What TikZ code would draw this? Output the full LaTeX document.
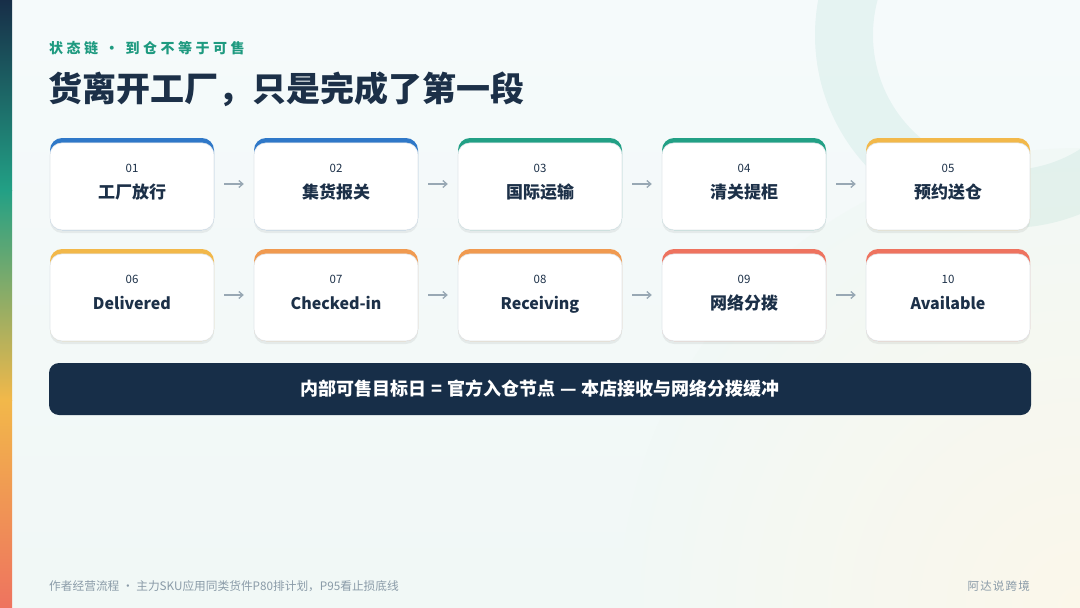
\documentclass[tikz,border=0pt]{standalone}
\usepackage{fontspec}
\setmainfont{Noto Sans CJK SC}
\usepackage{tikz}
\usetikzlibrary{arrows.meta, positioning, shadows}
\definecolor{adanavy}{HTML}{172E48}
\definecolor{adaink}{HTML}{1C3048}
\definecolor{adateal}{HTML}{1E9A80}
\definecolor{adablue}{HTML}{2F78C8}
\definecolor{adagreen}{HTML}{22A085}
\definecolor{adayellow}{HTML}{F2B84A}
\definecolor{adaorange}{HTML}{F09A50}
\definecolor{adacoral}{HTML}{EE735F}
\definecolor{adagray}{HTML}{8A9BA8}
\definecolor{adaarrow}{HTML}{98A8B4}
\definecolor{adaedge}{HTML}{E1E7EB}
\definecolor{adabgtop}{HTML}{F5FAFB}
\definecolor{adabgbot}{HTML}{F1F8F6}
\definecolor{adacream}{HTML}{FBF7EA}

\begin{document}
\begin{tikzpicture}[
        x=1pt, y=-1pt,
        every node/.style={align=center, inner sep=0pt},
        card/.style={rectangle, rounded corners=12pt, fill=#1,
                     minimum width=164pt, minimum height=92pt,
                     drop shadow={shadow xshift=0pt, shadow yshift=-3pt,
                                  opacity=0.06, fill=black}},
        body/.style={rectangle, rounded corners=12pt, fill=white,
                     draw=adaedge, line width=0.6pt,
                     minimum width=164pt, minimum height=87pt, anchor=south},
        num/.style={font=\fontsize{11.5}{13}\selectfont, text=adaink},
        lbl/.style={font=\fontsize{17}{20}\selectfont\bfseries, text=adaink,
                    text height=15pt, text depth=2pt},
        elbl/.style={font=\fontsize{16}{20}\selectfont\bfseries, text=adaink,
                     text height=15pt, text depth=2pt},
        flow/.style={-{Straight Barb[length=4pt, width=7pt]}, draw=adaarrow,
                     line width=1.3pt, shorten >=10pt, shorten <=10pt},
        banner/.style={rectangle, rounded corners=10pt, fill=adanavy,
                       minimum width=982pt, minimum height=52pt, text=white,
                       font=\fontsize{18}{20}\selectfont\bfseries}
    ]
        \useasboundingbox (0,0) rectangle (1080,608);

        % background and side strip
        \shade[top color=adabgtop, bottom color=adabgbot] (0,0) rectangle (1080,608);
        \begin{scope}
            \clip (0,0) rectangle (1080,608);
            \shade[inner color=adacream, outer color=adabgbot] (1080,608) circle (460pt);
        \end{scope}
        \fill[adateal, fill opacity=0.07, even odd rule]
            (1008,35) circle (193pt) (1008,35) circle (135pt);
        \shade[top color=adanavy, bottom color=adagreen] (0,0) rectangle (12,190);
        \shade[top color=adagreen, bottom color=adayellow] (0,190) rectangle (12,400);
        \shade[top color=adayellow, bottom color=adacoral] (0,400) rectangle (12,608);

        % heading
        \node[anchor=west, text=adateal,
              font=\fontsize{14}{16}\selectfont\bfseries\addfontfeature{LetterSpace=25}]
            (kicker) at (49,48) {状态链 · 到仓不等于可售};
        \node[anchor=west, text=adaink, font=\fontsize{34}{40}\selectfont\bfseries]
            (title) at (48,89) {货离开工厂，只是完成了第一段};

        % row 1
        \node[card=adablue] (c1) at (132,184) {};
        \node[body] (b1) at (c1.south) {};
        \node[num] (n1) at ([yshift=16pt]c1.center) {01};
        \node[lbl] (t1) at ([yshift=-8pt]c1.center) {工厂放行};

        \node[card=adablue] (c2) at (336,184) {};
        \node[body] (b2) at (c2.south) {};
        \node[num] (n2) at ([yshift=16pt]c2.center) {02};
        \node[lbl] (t2) at ([yshift=-8pt]c2.center) {集货报关};

        \node[card=adagreen] (c3) at (540,184) {};
        \node[body] (b3) at (c3.south) {};
        \node[num] (n3) at ([yshift=16pt]c3.center) {03};
        \node[lbl] (t3) at ([yshift=-8pt]c3.center) {国际运输};

        \node[card=adagreen] (c4) at (744,184) {};
        \node[body] (b4) at (c4.south) {};
        \node[num] (n4) at ([yshift=16pt]c4.center) {04};
        \node[lbl] (t4) at ([yshift=-8pt]c4.center) {清关提柜};

        \node[card=adayellow] (c5) at (948,184) {};
        \node[body] (b5) at (c5.south) {};
        \node[num] (n5) at ([yshift=16pt]c5.center) {05};
        \node[lbl] (t5) at ([yshift=-8pt]c5.center) {预约送仓};

        % row 2
        \node[card=adayellow] (c6) at (132,295) {};
        \node[body] (b6) at (c6.south) {};
        \node[num] (n6) at ([yshift=16pt]c6.center) {06};
        \node[elbl] (t6) at ([yshift=-8pt]c6.center) {Delivered};

        \node[card=adaorange] (c7) at (336,295) {};
        \node[body] (b7) at (c7.south) {};
        \node[num] (n7) at ([yshift=16pt]c7.center) {07};
        \node[elbl] (t7) at ([yshift=-8pt]c7.center) {Checked-in};

        \node[card=adaorange] (c8) at (540,295) {};
        \node[body] (b8) at (c8.south) {};
        \node[num] (n8) at ([yshift=16pt]c8.center) {08};
        \node[elbl] (t8) at ([yshift=-8pt]c8.center) {Receiving};

        \node[card=adacoral] (c9) at (744,295) {};
        \node[body] (b9) at (c9.south) {};
        \node[num] (n9) at ([yshift=16pt]c9.center) {09};
        \node[lbl] (t9) at ([yshift=-8pt]c9.center) {网络分拨};

        \node[card=adacoral] (c10) at (948,295) {};
        \node[body] (b10) at (c10.south) {};
        \node[num] (n10) at ([yshift=16pt]c10.center) {10};
        \node[elbl] (t10) at ([yshift=-8pt]c10.center) {Available};

        % arrows
        \draw[flow] (c1) -- (c2);
        \draw[flow] (c2) -- (c3);
        \draw[flow] (c3) -- (c4);
        \draw[flow] (c4) -- (c5);
        \draw[flow] (c6) -- (c7);
        \draw[flow] (c7) -- (c8);
        \draw[flow] (c8) -- (c9);
        \draw[flow] (c9) -- (c10);

        \node[banner] (bar) at (540,389)
            {内部可售目标日\hspace{5pt}=\hspace{5pt}官方入仓节点\hspace{5pt}—\hspace{5pt}本店接收与网络分拨缓冲};

        % footer
        \node[anchor=west, text=adagray, font=\fontsize{11.7}{13}\selectfont]
            (note) at (49,586) {作者经营流程 · 主力SKU应用同类货件P80排计划，P95看止损底线};
        \node[anchor=east, text=adagray,
              font=\fontsize{11.5}{13}\selectfont\addfontfeature{LetterSpace=10}]
            (brand) at (1030,586) {阿达说跨境};
    \end{tikzpicture}
\end{document}
